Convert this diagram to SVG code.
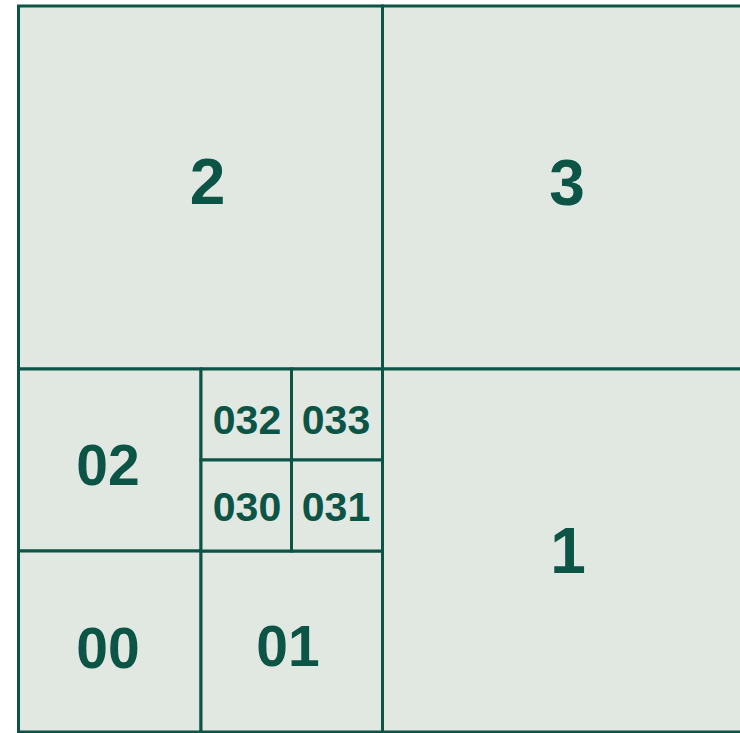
<svg xmlns="http://www.w3.org/2000/svg" width="740" height="733" viewBox="0 0 740 733">
<style>
.cell{fill:#e1e8e2;stroke:#0c5446;stroke-width:3}
.big{font-family:"Liberation Sans",Arial,sans-serif;font-weight:bold;font-size:64px;fill:#0c5446;text-anchor:middle}
.mid{font-family:"Liberation Sans",Arial,sans-serif;font-weight:bold;font-size:57px;fill:#0c5446;text-anchor:middle}
.sm{font-family:"Liberation Sans",Arial,sans-serif;font-weight:bold;font-size:41px;fill:#0c5446;text-anchor:middle}
</style>
<rect x="0" y="0" width="740" height="733" fill="#ffffff"/>
<g id="cell-2"><rect class="cell" x="18.5" y="6" width="364" height="363"/><text class="big" x="207.5" y="204">2</text></g>
<g id="cell-3"><rect class="cell" x="382.5" y="6" width="363" height="363"/><text class="big" x="567" y="205">3</text></g>
<g id="cell-1"><rect class="cell" x="382.5" y="369" width="363" height="363"/><text class="big" x="568" y="573">1</text></g>
<g id="cell-02"><rect class="cell" x="18.5" y="369" width="182.5" height="182"/><text class="mid" x="108" y="485">02</text></g>
<g id="cell-00"><rect class="cell" x="18.5" y="551" width="182.5" height="181"/><text class="mid" x="108" y="668">00</text></g>
<g id="cell-01"><rect class="cell" x="201" y="551" width="181.5" height="181"/><text class="mid" x="288" y="666">01</text></g>
<g id="cell-032"><rect class="cell" x="201" y="369" width="90.5" height="91"/><text class="sm" x="247" y="434">032</text></g>
<g id="cell-033"><rect class="cell" x="291.5" y="369" width="91" height="91"/><text class="sm" x="336" y="434">033</text></g>
<g id="cell-030"><rect class="cell" x="201" y="460" width="90.5" height="91"/><text class="sm" x="247" y="521">030</text></g>
<g id="cell-031"><rect class="cell" x="291.5" y="460" width="91" height="91"/><text class="sm" x="336" y="521">031</text></g>
<g id="connectors"></g>
</svg>
